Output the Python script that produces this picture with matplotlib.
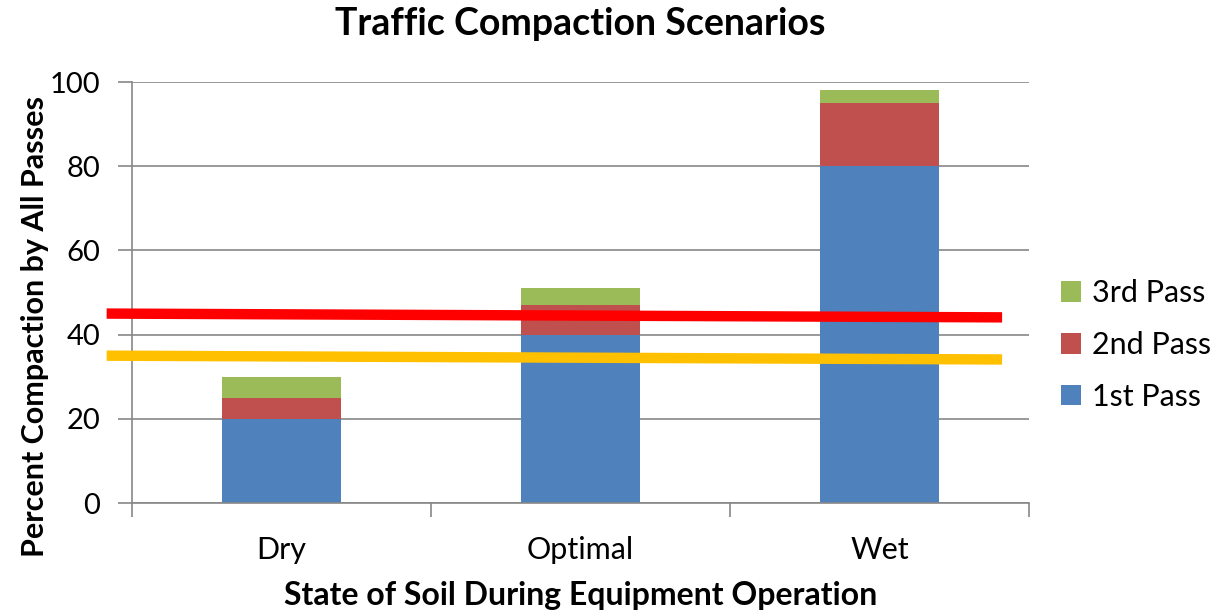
import matplotlib
matplotlib.use("Agg")
import matplotlib.pyplot as plt
import numpy as np

# Data
categories = ["Dry", "Optimal", "Wet"]
first_pass = [20, 40, 80]
second_pass = [5, 7, 15]
third_pass = [5, 4, 3]

# two reference lines drawn across the chart (start, end)
line_x = [-0.585, 2.41]
red_line = [45.0, 44.1]
yellow_line = [35.0, 34.1]

plt.rcParams["font.family"] = ["Lato", "DejaVu Sans"]

BLUE, RED, GREEN = "#4F81BD", "#C0504D", "#9BBB59"
GRID = "#878787"

fig = plt.figure(figsize=(12.25, 6.13), dpi=100)
ax = fig.add_axes([0.1078, 0.1794, 0.7322, 0.6868])

x = np.arange(len(categories))
w = 0.4
b1 = ax.bar(x, first_pass, w, color=BLUE, label="1st Pass", zorder=2)
b2 = ax.bar(x, second_pass, w, bottom=first_pass, color=RED, label="2nd Pass", zorder=2)
bottom3 = np.array(first_pass) + np.array(second_pass)
b3 = ax.bar(x, third_pass, w, bottom=bottom3, color=GREEN, label="3rd Pass", zorder=2)

ax.plot(line_x, red_line, color="#FF0000", lw=7.5, solid_capstyle="butt", clip_on=False, zorder=3)
ax.plot(line_x, yellow_line, color="#FFC000", lw=7.5, solid_capstyle="butt", clip_on=False, zorder=3)

ax.set_xlim(-0.5, 2.5)
ax.set_ylim(0, 100)
ax.set_yticks(range(0, 101, 20))
ax.yaxis.grid(True, color=GRID, lw=1.2, zorder=0)
ax.set_axisbelow(True)

# category boundaries get ticks, labels sit in the middle
ax.set_xticks([-0.5, 0.5, 1.5, 2.5])
ax.set_xticklabels([])
ax.set_xticks(x, minor=True)
ax.set_xticklabels(categories, minor=True)
ax.tick_params(axis="x", which="major", length=10, width=1.2, color=GRID, direction="out")
ax.tick_params(axis="x", which="minor", length=0, pad=24, labelsize=22)
ax.tick_params(axis="y", length=10, width=1.2, color=GRID, pad=13, labelsize=21)

for s in ["top", "right"]:
    ax.spines[s].set_visible(False)
for s in ["left", "bottom"]:
    ax.spines[s].set_color(GRID)
    ax.spines[s].set_linewidth(1.2)

ax.set_title("Traffic Compaction Scenarios", fontsize=27, fontweight="bold", pad=34)
ax.set_xlabel("State of Soil During Equipment Operation", fontsize=23, fontweight="bold", labelpad=12)
ax.set_ylabel("Percent Compaction by All Passes", fontsize=22, fontweight="bold")
ax.yaxis.set_label_coords(-0.093, 0.42)

leg = ax.legend(handles=[b3, b2, b1], loc="center left", bbox_to_anchor=(1.005, 0.375),
                frameon=False, fontsize=22, handlelength=0.65, handleheight=0.65,
                handletextpad=0.35, labelspacing=0.78)

fig.savefig("out.png", dpi=100)
